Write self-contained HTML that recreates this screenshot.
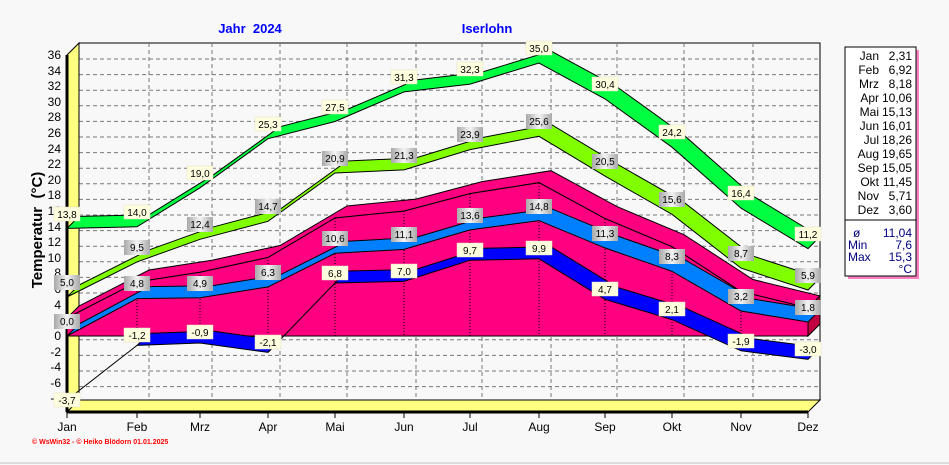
<!DOCTYPE html>
<html><head><meta charset="utf-8"><style>
body{margin:0;background:#f8f8f8;}
svg{display:block;font-family:"Liberation Sans",sans-serif;}
.y{font-size:12px;text-anchor:end}
.m{font-size:12px;text-anchor:middle}
.l text{font-size:10px;text-anchor:middle}
.yl rect{fill:#ffffe0;stroke:#e0e0c0;stroke-width:0.5}
.gl rect{fill:url(#gg)}
</style></head><body>
<svg width="949" height="465" viewBox="0 0 949 465">
<defs><linearGradient id="gg" x1="0" x2="1"><stop offset="0" stop-color="#a8a8a8"/><stop offset="0.5" stop-color="#f4f4f4"/><stop offset="1" stop-color="#a8a8a8"/></linearGradient></defs>
<rect width="949" height="465" fill="#f8f8f8"/>
<line x1="0" y1="463" x2="949" y2="463" stroke="#c0c0c0"/>
<text x="250" y="33" font-size="13" font-weight="bold" fill="#0000ff" text-anchor="middle" xml:space="preserve" style="white-space:pre">Jahr  2024</text>
<text x="487" y="33" font-size="13" font-weight="bold" fill="#0000ff" text-anchor="middle">Iserlohn</text>
<!-- back wall -->
<rect x="79" y="43" width="741" height="357" fill="#f8f8f8" stroke="#000"/>
<g stroke="#777" stroke-dasharray="4,3">
<line x1="79" y1="59" x2="820" y2="59"/><line x1="79" y1="74.6" x2="820" y2="74.6"/><line x1="79" y1="90.2" x2="820" y2="90.2"/><line x1="79" y1="105.8" x2="820" y2="105.8"/><line x1="79" y1="121.4" x2="820" y2="121.4"/><line x1="79" y1="137" x2="820" y2="137"/><line x1="79" y1="152.6" x2="820" y2="152.6"/><line x1="79" y1="168.2" x2="820" y2="168.2"/><line x1="79" y1="183.8" x2="820" y2="183.8"/><line x1="79" y1="199.4" x2="820" y2="199.4"/><line x1="79" y1="215" x2="820" y2="215"/><line x1="79" y1="230.6" x2="820" y2="230.6"/><line x1="79" y1="246.2" x2="820" y2="246.2"/><line x1="79" y1="261.8" x2="820" y2="261.8"/><line x1="79" y1="277.4" x2="820" y2="277.4"/><line x1="79" y1="293" x2="820" y2="293"/><line x1="79" y1="308.6" x2="820" y2="308.6"/><line x1="79" y1="339.8" x2="820" y2="339.8"/><line x1="79" y1="355.4" x2="820" y2="355.4"/><line x1="79" y1="371" x2="820" y2="371"/><line x1="79" y1="386.6" x2="820" y2="386.6"/>
<line x1="149" y1="43" x2="149" y2="400"/><line x1="212" y1="43" x2="212" y2="400"/><line x1="280" y1="43" x2="280" y2="400"/><line x1="347" y1="43" x2="347" y2="400"/><line x1="416" y1="43" x2="416" y2="400"/><line x1="482" y1="43" x2="482" y2="400"/><line x1="551" y1="43" x2="551" y2="400"/><line x1="617" y1="43" x2="617" y2="400"/><line x1="684" y1="43" x2="684" y2="400"/><line x1="753" y1="43" x2="753" y2="400"/>
</g>
<!-- left wall and floor -->
<polygon points="67,55 79,43 79,400 67,412" fill="#ffff80" stroke="#000"/>
<polygon points="67,412 808,412 820,400 79,400" fill="#ffff80" stroke="#000"/>
<line x1="67" y1="55" x2="67" y2="412" stroke="#000" stroke-width="3"/>
<line x1="67" y1="412" x2="808" y2="412" stroke="#000" stroke-width="3"/>
<g stroke="#000">
<line x1="67" y1="412" x2="67" y2="418"/><line x1="137" y1="412" x2="137" y2="418"/><line x1="200" y1="412" x2="200" y2="418"/><line x1="268" y1="412" x2="268" y2="418"/><line x1="335" y1="412" x2="335" y2="418"/><line x1="404" y1="412" x2="404" y2="418"/><line x1="470" y1="412" x2="470" y2="418"/><line x1="539" y1="412" x2="539" y2="418"/><line x1="605" y1="412" x2="605" y2="418"/><line x1="672" y1="412" x2="672" y2="418"/><line x1="741" y1="412" x2="741" y2="418"/><line x1="808" y1="412" x2="808" y2="418"/>
</g>
<!-- max green -->
<polygon points="67,228.4 137,226.8 200,187.8 268,138.7 335,121.5 404,91.9 470,84.1 539,63 605,98.9 672,147.2 741,208.1 808,248.6 820,236.6 753,196.1 684,135.2 617,86.9 551,51 482,72.1 416,79.9 347,109.5 280,126.7 212,175.8 149,214.8 79,216.4" fill="#00ff40" stroke="#000" stroke-width="1"/>
<!-- lime -->
<polygon points="67,297 137,261.9 200,239.3 268,221.3 335,173 404,169.9 470,149.6 539,136.3 605,176.1 672,214.3 741,268.1 808,290 820,278 753,256.1 684,202.3 617,164.1 551,124.3 482,137.6 416,157.9 347,161 280,209.3 212,227.3 149,249.9 79,285" fill="#80ff00" stroke="#000"/>
<!-- pink -->
<polygon points="67,318 137,282 200,272.2 268,257.5 335,218 404,211.1 470,193.6 539,182.7 605,218.6 672,246.7 741,291.5 808,307.9 820,295.9 753,279.5 684,234.7 617,206.6 551,170.7 482,181.6 416,199.1 347,206 280,245.5 212,260.2 149,270 79,306" fill="#ff0080" stroke="#000"/>
<polygon points="67,318 137,282 200,272.2 268,257.5 335,218 404,211.1 470,193.6 539,182.7 605,218.6 672,246.7 741,291.5 808,307.9 808,336 67,336" fill="#ff0080" stroke="#000"/>
<polygon points="808,307.9 820,295.9 820,324 808,336" fill="#c00040" stroke="#000"/>
<g stroke="#000" stroke-dasharray="1,2">
<line x1="137" y1="282" x2="137" y2="336"/><line x1="200" y1="272" x2="200" y2="336"/><line x1="268" y1="257" x2="268" y2="336"/><line x1="335" y1="218" x2="335" y2="336"/><line x1="404" y1="211" x2="404" y2="336"/><line x1="470" y1="194" x2="470" y2="336"/><line x1="539" y1="183" x2="539" y2="336"/><line x1="605" y1="219" x2="605" y2="336"/><line x1="672" y1="247" x2="672" y2="336"/><line x1="741" y1="291" x2="741" y2="336"/>
<line x1="67" y1="336" x2="808" y2="336"/>
</g>
<!-- mean blue -->
<polygon points="67,336 137,298.6 200,297.8 268,286.9 335,253.3 404,249.4 470,229.9 539,220.6 605,247.9 672,271.3 741,311 808,322 820,310 753,299 684,259.3 617,235.9 551,208.6 482,217.9 416,237.4 347,241.3 280,274.9 212,285.8 149,286.6 79,324" fill="#0080ff" stroke="#000"/>
<!-- min -->
<polygon points="137,345.4 200,343 268,352.4 280,340.4 212,331 149,333.4" fill="#0000ff" stroke="#000"/>
<polygon points="335,283 404,281.4 470,260.3 539,258.8 605,299.3 672,319.6 741,350.8 808,359.4 820,347.4 753,338.8 684,307.6 617,287.3 551,246.8 482,248.3 416,269.4 347,271" fill="#0000ff" stroke="#000"/>
<line x1="67" y1="400" x2="137" y2="345.4" stroke="#000"/>
<line x1="268" y1="352.4" x2="335" y2="283" stroke="#000"/>
<!-- y labels -->
<g class="y">
<text x="61" y="59">36</text><text x="61" y="75">34</text><text x="61" y="90">32</text><text x="61" y="106">30</text><text x="61" y="121">28</text><text x="61" y="137">26</text><text x="61" y="153">24</text><text x="61" y="168">22</text><text x="61" y="184">20</text><text x="61" y="199">18</text><text x="61" y="215">16</text><text x="61" y="231">14</text><text x="61" y="246">12</text><text x="61" y="262">10</text><text x="61" y="277">8</text><text x="61" y="293">6</text><text x="61" y="309">4</text><text x="61" y="324">2</text><text x="61" y="340">0</text><text x="61" y="356">-2</text><text x="61" y="371">-4</text><text x="61" y="387">-6</text><text x="61" y="402">-8</text>
</g>
<text transform="translate(42,230) rotate(-90)" font-size="15" font-weight="bold" text-anchor="middle" xml:space="preserve" style="white-space:pre">Temperatur  (°C)</text>
<g class="m">
<text x="67" y="431">Jan</text><text x="137" y="431">Feb</text><text x="200" y="431">Mrz</text><text x="268" y="431">Apr</text><text x="335" y="431">Mai</text><text x="404" y="431">Jun</text><text x="470" y="431">Jul</text><text x="539" y="431">Aug</text><text x="605" y="431">Sep</text><text x="672" y="431">Okt</text><text x="741" y="431">Nov</text><text x="808" y="431">Dez</text>
</g>
<text x="32" y="444" font-size="7" font-weight="bold" fill="#ff0000">© WsWin32  -  © Heiko Blödorn  01.01.2025</text>
<!-- labels -->
<g class="l yl">
<rect x="54" y="207" width="26" height="14"/><text x="67" y="218">13,8</text>
<rect x="124" y="205" width="26" height="14"/><text x="137" y="216">14,0</text>
<rect x="187" y="166" width="26" height="14"/><text x="200" y="177">19,0</text>
<rect x="255" y="117" width="26" height="14"/><text x="268" y="128">25,3</text>
<rect x="322" y="100" width="26" height="14"/><text x="335" y="111">27,5</text>
<rect x="391" y="70" width="26" height="14"/><text x="404" y="81">31,3</text>
<rect x="457" y="62" width="26" height="14"/><text x="470" y="73">32,3</text>
<rect x="526" y="41" width="26" height="14"/><text x="539" y="52">35,0</text>
<rect x="592" y="77" width="26" height="14"/><text x="605" y="88">30,4</text>
<rect x="659" y="125" width="26" height="14"/><text x="672" y="136">24,2</text>
<rect x="728" y="186" width="26" height="14"/><text x="741" y="197">16,4</text>
<rect x="795" y="227" width="26" height="14"/><text x="808" y="238">11,2</text>
<rect x="54" y="393" width="26" height="14"/><text x="67" y="404">-3,7</text>
<rect x="124" y="328" width="26" height="14"/><text x="137" y="339">-1,2</text>
<rect x="187" y="325" width="26" height="14"/><text x="200" y="336">-0,9</text>
<rect x="255" y="335" width="26" height="14"/><text x="268" y="346">-2,1</text>
<rect x="322" y="266" width="26" height="14"/><text x="335" y="277">6,8</text>
<rect x="391" y="264" width="26" height="14"/><text x="404" y="275">7,0</text>
<rect x="457" y="243" width="26" height="14"/><text x="470" y="254">9,7</text>
<rect x="526" y="241" width="26" height="14"/><text x="539" y="252">9,9</text>
<rect x="592" y="282" width="26" height="14"/><text x="605" y="293">4,7</text>
<rect x="659" y="302" width="26" height="14"/><text x="672" y="313">2,1</text>
<rect x="728" y="334" width="26" height="14"/><text x="741" y="345">-1,9</text>
<rect x="795" y="342" width="26" height="14"/><text x="808" y="353">-3,0</text>
</g>
<g class="l gl">
<rect x="54" y="275" width="26" height="15"/><text x="67" y="286">5,0</text>
<rect x="124" y="240" width="26" height="15"/><text x="137" y="251">9,5</text>
<rect x="187" y="217" width="26" height="15"/><text x="200" y="228">12,4</text>
<rect x="255" y="199" width="26" height="15"/><text x="268" y="210">14,7</text>
<rect x="322" y="151" width="26" height="15"/><text x="335" y="162">20,9</text>
<rect x="391" y="148" width="26" height="15"/><text x="404" y="159">21,3</text>
<rect x="457" y="127" width="26" height="15"/><text x="470" y="138">23,9</text>
<rect x="526" y="114" width="26" height="15"/><text x="539" y="125">25,6</text>
<rect x="592" y="154" width="26" height="15"/><text x="605" y="165">20,5</text>
<rect x="659" y="192" width="26" height="15"/><text x="672" y="203">15,6</text>
<rect x="728" y="246" width="26" height="15"/><text x="741" y="257">8,7</text>
<rect x="795" y="268" width="26" height="15"/><text x="808" y="279">5,9</text>
<rect x="54" y="314" width="26" height="15"/><text x="67" y="325">0,0</text>
<rect x="124" y="276" width="26" height="15"/><text x="137" y="287">4,8</text>
<rect x="187" y="276" width="26" height="15"/><text x="200" y="287">4,9</text>
<rect x="255" y="265" width="26" height="15"/><text x="268" y="276">6,3</text>
<rect x="322" y="231" width="26" height="15"/><text x="335" y="242">10,6</text>
<rect x="391" y="227" width="26" height="15"/><text x="404" y="238">11,1</text>
<rect x="457" y="208" width="26" height="15"/><text x="470" y="219">13,6</text>
<rect x="526" y="199" width="26" height="15"/><text x="539" y="210">14,8</text>
<rect x="592" y="226" width="26" height="15"/><text x="605" y="237">11,3</text>
<rect x="659" y="249" width="26" height="15"/><text x="672" y="260">8,3</text>
<rect x="728" y="289" width="26" height="15"/><text x="741" y="300">3,2</text>
<rect x="795" y="300" width="26" height="15"/><text x="808" y="311">1,8</text>
</g>
<!-- legend -->
<rect x="848" y="50" width="71" height="229" fill="#ff80c0"/>
<rect x="845" y="47" width="71" height="229" fill="#fff" stroke="#000"/>
<line x1="845" y1="220" x2="916" y2="220" stroke="#000"/>
<g font-size="12">
<g text-anchor="end">
<text x="879" y="60">Jan</text><text x="879" y="74">Feb</text><text x="879" y="88">Mrz</text><text x="879" y="102">Apr</text><text x="879" y="116">Mai</text><text x="879" y="130">Jun</text><text x="879" y="144">Jul</text><text x="879" y="158">Aug</text><text x="879" y="172">Sep</text><text x="879" y="186">Okt</text><text x="879" y="200">Nov</text><text x="879" y="214">Dez</text>
<text x="912" y="60">2,31</text><text x="912" y="74">6,92</text><text x="912" y="88">8,18</text><text x="912" y="102">10,06</text><text x="912" y="116">15,13</text><text x="912" y="130">16,01</text><text x="912" y="144">18,26</text><text x="912" y="158">19,65</text><text x="912" y="172">15,05</text><text x="912" y="186">11,45</text><text x="912" y="200">5,71</text><text x="912" y="214">3,60</text>
</g>
<g fill="#000080">
<text x="853" y="237">ø</text><text x="848" y="249">Min</text><text x="848" y="261">Max</text>
<text x="912" y="237" text-anchor="end">11,04</text><text x="912" y="249" text-anchor="end">7,6</text><text x="912" y="261" text-anchor="end">15,3</text><text x="912" y="273" text-anchor="end">°C</text>
</g>
</g>
</svg>
</body></html>
